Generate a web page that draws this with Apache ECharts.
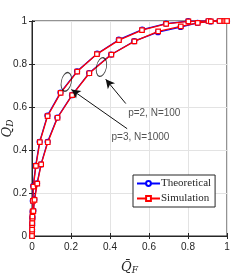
<!DOCTYPE html>
<html><head><meta charset="utf-8">
<script src="https://cdn.jsdelivr.net/npm/echarts@6/dist/echarts.min.js"></script>
<style>html,body{margin:0;padding:0;background:#fff}#c{width:251px;height:273px}</style>
</head><body><div id="c"></div>
<script>
// Upper curve (p=3, N=1000)
const theoA = [[0,0],[0.0005,0.02],[0.001,0.05],[0.002,0.08],[0.003,0.113],[0.004,0.163],[0.006,0.232],[0.019,0.327],[0.039,0.438],[0.079,0.560],[0.146,0.667],[0.231,0.766],[0.334,0.848],[0.445,0.913],[0.565,0.960],[0.687,0.988],[0.801,0.999],[0.904,1.0],[0.978,1.0],[1.0,1.0]];
const simA  = [[0,0],[0.0005,0.02],[0.001,0.05],[0.002,0.08],[0.003,0.113],[0.005,0.163],[0.007,0.230],[0.020,0.326],[0.040,0.437],[0.080,0.558],[0.147,0.666],[0.232,0.765],[0.333,0.846],[0.446,0.911],[0.564,0.958],[0.688,0.987],[0.802,0.998],[0.905,1.0],[0.977,1.0],[1.0,1.0]];
// Lower curve (p=2, N=100)
const theoB = [[0,0],[0.0005,0.03],[0.001,0.06],[0.002,0.09],[0.007,0.118],[0.012,0.170],[0.026,0.245],[0.046,0.333],[0.080,0.438],[0.130,0.551],[0.205,0.655],[0.293,0.758],[0.406,0.844],[0.524,0.906],[0.646,0.948],[0.762,0.972],[0.849,0.991],[0.916,0.998],[0.961,1.0],[0.991,1.0],[1.0,1.0]];
const simB  = [[0,0],[0.0005,0.03],[0.001,0.06],[0.002,0.09],[0.007,0.116],[0.013,0.168],[0.027,0.244],[0.047,0.333],[0.081,0.436],[0.131,0.550],[0.206,0.655],[0.294,0.757],[0.407,0.844],[0.525,0.905],[0.647,0.952],[0.763,0.975],[0.850,0.991],[0.917,0.998],[0.962,1.0],[0.991,1.0],[1.0,1.0]];
const ticks = [0,0.2,0.4,0.6,0.8,1];
const ellipses = [[0.176,0.717],[0.356,0.786]];
const arrows = [[[0.481,0.616],[0.378,0.729]],[[0.488,0.499],[0.202,0.681]]];
const notes = [{text:'p=2, N=100',pos:[0.493,0.573]},{text:'p=3, N=1000',pos:[0.408,0.461]}];

const chart = echarts.init(document.getElementById('c'));
const narrow = "'Liberation Sans Narrow','Arial Narrow','Liberation Sans',sans-serif";
const lab = {fontFamily:narrow,fontSize:10,color:'#262626'};
const axisCommon = {
  type:'value',min:0,max:1,interval:0.2,
  axisLine:{show:true,lineStyle:{color:'#262626',width:1}},
  axisTick:{show:true,inside:true,length:3,lineStyle:{color:'#262626'}},
  splitLine:{show:true,lineStyle:{color:'#e3e3e3',width:1}}
};
const nameRich = {
  q:{fontFamily:'DejaVu Serif',fontStyle:'italic',fontSize:13,color:'#262626'},
  s:{fontFamily:'DejaVu Serif',fontStyle:'italic',fontSize:9,color:'#262626',verticalAlign:'bottom',padding:[6,0,0,0]}
};
function lineSeries(name,data,color,symbol,size){
  return {name,type:'line',data,symbol,symbolSize:size,showAllSymbol:true,
    lineStyle:{color,width:1.3},itemStyle:{color:'#fff',borderColor:color,borderWidth:1.2},
    emphasis:{disabled:true},z:name==='Simulation'?3:2,animation:false};
}
chart.setOption({
  animation:false,
  grid:{left:32,right:24,top:21,bottom:37,containLabel:false,outerBoundsMode:'none',
    show:true,borderColor:'#262626',borderWidth:1},
  xAxis:[Object.assign({},axisCommon,{position:'bottom',
      axisLabel:Object.assign({},lab,{margin:6,formatter:v=>String(v)}),
      name:'{q|Q̄}{s|F}',nameLocation:'middle',nameGap:24,nameMoveOverlap:false,nameTextStyle:{rich:nameRich}}),
    Object.assign({},axisCommon,{position:'top',axisLabel:{show:false},splitLine:{show:false}})],
  yAxis:[Object.assign({},axisCommon,{position:'left',
      axisLabel:Object.assign({},lab,{margin:5,formatter:v=>String(v)}),
      name:'{q|Q̄}{s|D}',nameLocation:'middle',nameGap:17,nameRotate:90,nameMoveOverlap:false,nameTextStyle:{rich:nameRich}}),
    Object.assign({},axisCommon,{position:'right',axisLabel:{show:false},splitLine:{show:false}})],
  legend:{data:['Theoretical','Simulation'],orient:'vertical',left:133,top:175,
    backgroundColor:'#fff',borderColor:'#262626',borderWidth:1,padding:[3,4,3,3],itemGap:4,
    itemWidth:23,itemHeight:6,
    textStyle:{fontFamily:'Liberation Serif',fontSize:11,color:'#262626',padding:[0,0,0,-4]}},
  series:[
    lineSeries('Theoretical',theoA,'#0000ff','circle',5),
    lineSeries('Simulation',simA,'#ff0000','rect',4.5),
    lineSeries('Theoretical',theoB,'#0000ff','circle',5),
    lineSeries('Simulation',simB,'#ff0000','rect',4.5),
    {type:'scatter',data:ellipses,symbol:'circle',symbolSize:[10,19],symbolRotate:-12,
      itemStyle:{color:'rgba(0,0,0,0)',borderColor:'#111',borderWidth:1},z:5,silent:true,
      markLine:{silent:true,symbol:['none','arrow'],symbolSize:[7,9],label:{show:false},
        lineStyle:{color:'#111',width:1,type:'solid'},
        data:arrows.map(a=>[{coord:a[0]},{coord:a[1]}])}},
    {type:'scatter',data:notes.map(n=>({value:n.pos,label:{show:true,formatter:n.text}})),
      symbolSize:0,silent:true,
      label:{position:'right',distance:0,fontFamily:narrow,fontSize:10,color:'#262626'}}
  ]
});
</script></body></html>
